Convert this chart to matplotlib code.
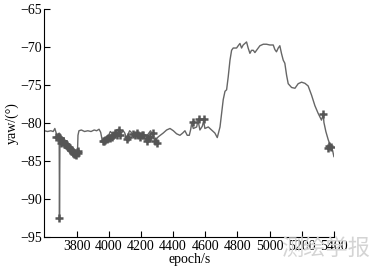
import matplotlib
matplotlib.use("Agg")
import matplotlib.pyplot as plt

# line (epoch, yaw)
line_x = [3600, 3620, 3640, 3655, 3665, 3675, 3685, 3692, 3694, 3697, 3700, 3705,
          3712, 3720, 3730, 3740, 3750, 3760, 3770, 3780, 3790, 3800, 3806, 3809,
          3815, 3830, 3850, 3870, 3890, 3910, 3925, 3940, 3950, 3960, 3970, 3980,
          3990, 4000, 4010, 4020, 4030, 4040, 4050, 4060, 4068, 4080, 4090, 4100,
          4110, 4120, 4130, 4140, 4150, 4160, 4170, 4180, 4190, 4200, 4210, 4220,
          4230, 4240, 4250, 4260, 4270, 4280, 4290, 4300, 4308, 4339, 4360, 4381,
          4402, 4422, 4443, 4460, 4474, 4488, 4501, 4510, 4516, 4526, 4547, 4555,
          4567, 4582, 4590, 4598, 4619, 4640, 4660, 4675, 4692, 4712, 4723, 4733,
          4743, 4754, 4764, 4774, 4795, 4805, 4816, 4826, 4836, 4857, 4867, 4878,
          4888, 4899, 4909, 4919, 4940, 4961, 4981, 5002, 5012, 5023, 5033, 5043,
          5054, 5064, 5074, 5085, 5095, 5106, 5116, 5137, 5158, 5178, 5199, 5220,
          5240, 5261, 5282, 5302, 5323, 5334, 5338, 5350, 5365, 5381, 5392, 5400]
line_y = [-81.0, -81.1, -81.0, -81.1, -80.7, -81.4, -81.8, -81.3, -92.5, -81.4, -81.8, -82.0,
          -82.3, -82.4, -82.7, -82.9, -83.1, -83.4, -83.6, -83.8, -84.1, -83.9, -83.7, -81.6,
          -81.0, -80.9, -81.1, -81.0, -81.1, -80.9, -81.0, -80.8, -81.2, -82.3, -82.1, -81.9,
          -81.7, -81.6, -81.1, -81.3, -81.5, -81.2, -80.9, -80.8, -81.0, -81.3, -81.0, -81.3,
          -82.0, -81.5, -81.0, -81.2, -81.5, -81.6, -81.2, -81.4, -81.7, -81.5, -81.3, -81.7,
          -82.4, -81.6, -81.3, -81.0, -81.4, -82.0, -82.5, -82.0, -81.8, -81.3, -80.9, -80.7,
          -81.0, -81.4, -81.6, -81.3, -81.0, -81.6, -81.6, -80.8, -80.0, -80.7, -80.5, -79.6,
          -80.9, -80.4, -79.7, -80.7, -80.5, -80.9, -81.3, -81.9, -80.5, -76.9, -75.8, -75.6,
          -73.9, -71.7, -70.4, -70.1, -70.1, -69.8, -69.5, -70.1, -69.7, -69.3, -70.1, -70.8,
          -70.4, -70.4, -70.7, -70.4, -69.8, -69.6, -69.6, -69.7, -69.7, -69.7, -70.3, -70.6,
          -70.1, -69.8, -70.8, -71.7, -72.1, -73.7, -74.8, -75.3, -75.4, -74.8, -74.6, -74.75,
          -75.1, -76.3, -77.7, -78.7, -79.6, -78.8, -79.9, -81.1, -82.2, -83.1, -83.6, -84.4]

# flagged points (epoch, yaw)
mark_x = [3670, 3687, 3693, 3698, 3701, 3705, 3708, 3713, 3718, 3723, 3728, 3734, 3739,
          3744, 3749, 3754, 3759, 3765, 3770, 3775, 3780, 3785, 3790, 3796, 3801, 3806,
          3811, 3962, 3970, 3977, 3988, 3998, 4008, 4018, 4028, 4039, 4052, 4066, 4070,
          4116, 4122, 4150, 4163, 4174, 4185, 4195, 4205, 4215, 4236, 4245, 4257, 4277,
          4288, 4298, 4522, 4563, 4592, 5334, 5365, 5372, 5379]
mark_y = [-81.8, -81.8, -92.5, -82.0, -82.2, -82.6, -82.5, -82.3, -82.4, -82.8, -82.7,
          -82.7, -82.9, -83.2, -83.1, -83.3, -83.4, -83.5, -83.6, -83.9, -83.8, -84.0,
          -84.0, -84.2, -83.8, -83.9, -83.7, -82.4, -82.3, -82.2, -82.1, -82.0, -81.9,
          -81.8, -81.6, -81.3, -81.6, -80.9, -81.6, -82.1, -81.8, -81.4, -81.6, -81.3,
          -81.6, -81.8, -81.5, -81.6, -82.4, -81.9, -81.8, -81.3, -82.4, -82.6, -79.8,
          -79.4, -79.5, -78.8, -83.3, -83.0, -83.1]

xticks = [3800, 4000, 4200, 4400, 4600, 4800, 5000, 5200, 5400]
yticks = [-95, -90, -85, -80, -75, -70, -65]

plt.rcParams['font.family'] = ['Liberation Serif', 'DejaVu Serif']
plt.rcParams['axes.unicode_minus'] = True

fig = plt.figure(figsize=(3.76, 2.74), dpi=100)
ax = fig.add_axes([0.118, 0.135, 0.770, 0.831])
ax.plot(line_x, line_y, color='#666666', lw=1.0, zorder=2)
ax.plot(mark_x, mark_y, linestyle='none', marker='+', markersize=5.5,
        markeredgewidth=1.8, color='#555555', zorder=3)

ax.set_xlim(3600, 5400)
ax.set_ylim(-95, -65)
ax.set_xticks(xticks)
ax.set_yticks(yticks)
ax.tick_params(direction='in', length=4, width=0.8, labelsize=10, pad=2)
for s in ['top', 'right']:
    ax.spines[s].set_visible(False)
ax.set_xlabel('epoch/s', fontsize=10, labelpad=0)
ax.set_ylabel('yaw/(°)', fontsize=10, labelpad=1)

fig.text(0.865, 0.095, '测绘学报', family=['Noto Sans CJK SC', 'DejaVu Sans'],
         fontsize=16, color='#d4d4d4', ha='center', va='center', zorder=0)

fig.savefig('out.png', dpi=100, facecolor='white')
